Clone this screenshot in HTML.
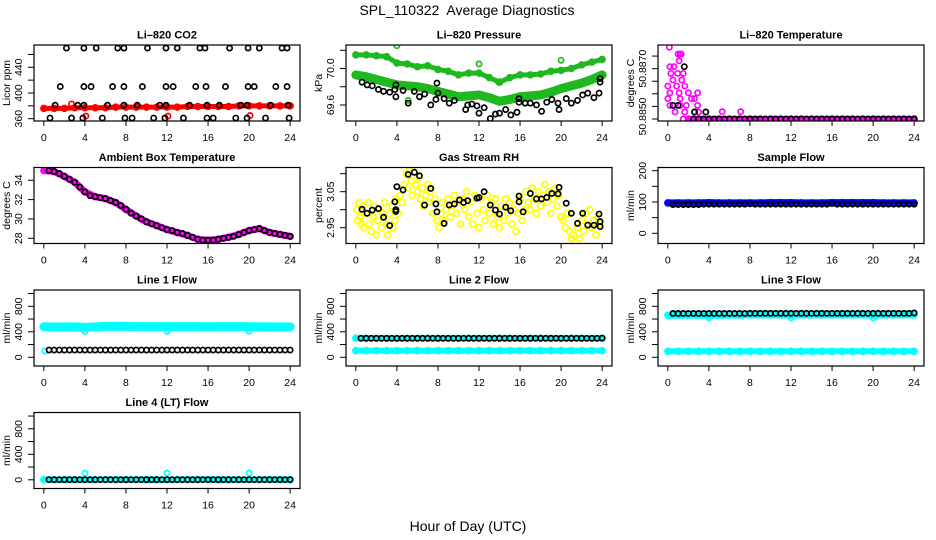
<!DOCTYPE html>
<html><head><meta charset="utf-8"><title>SPL_110322 Average Diagnostics</title>
<style>
html,body{margin:0;padding:0;background:#fff;}
svg{display:block;font-family:"Liberation Sans",Arial,sans-serif;}
</style></head>
<body>
<svg id="chart" width="936" height="540" viewBox="0 0 936 540" xmlns="http://www.w3.org/2000/svg">
<text x="467" y="15" font-size="14" text-anchor="middle">SPL_110322&#160; Average Diagnostics</text>
<text x="468" y="531" font-size="14" text-anchor="middle">Hour of Day (UTC)</text>
</svg>
<script>
// ---------- data ----------
const halfTimes = [0.5,1,1.5,2,2.5,3,3.5,4,4.5,5,5.5,6,6.5,7,7.5,8,8.5,9,9.5,10,10.5,11,11.5,12,12.5,13,13.5,14,14.5,15,15.5,16,16.5,17,17.5,18,18.5,19,19.5,20,20.5,21,21.5,22,22.5,23,23.5,24];
const hours = [0,1,2,3,4,5,6,7,8,9,10,11,12,13,14,15,16,17,18,19,20,21,22,23,24];

// CO2
const co2Red = [376,376,376,377,377,377,377,378,378,378,378,378,378,378,379,379,379,379,379,380,380,380,380,380,380];
const co2RedOutX = [2.7,4.1,12.1,20.1];
const co2RedOutY = [383,364,364,365];
const co2BlackX = [2.2,3.9,5.1,7.2,7.8,10.1,11.9,13.0,15.2,15.7,18.1,19.9,21.0,23.2,23.7,
  1.6,3.9,4.6,6.7,7.8,9.6,11.9,12.6,14.8,15.8,17.7,19.9,20.5,22.6,23.7,
  1.1,3.3,3.9,6.2,7.8,9.1,11.3,11.9,14.2,15.9,17.1,19.2,19.8,22.1,23.8,
  0.6,2.7,3.8,5.7,7.9,8.6,10.7,11.8,13.6,15.9,16.5,18.7,19.8,21.6,23.9];
const co2BlackY = [470,470,470,470,470,470,470,470,470,470,470,470,470,470,470,
  410,410,410,410,410,410,410,410,410,410,410,410,410,410,410,
  381,381,381,381,381,381,381,381,381,381,381,381,381,381,381,
  361,361,361,361,361,361,361,361,361,361,361,361,361,361,361];

// Pressure
const presUpper = [70.15,70.15,70.14,70.13,70.06,70.05,70.02,70.03,69.99,69.97,69.93,69.95,69.95,69.90,69.85,69.90,69.93,69.93,69.94,69.97,69.98,70.00,70.04,70.07,70.10];
const presLower = [69.93,69.91,69.88,69.85,69.82,69.81,69.80,69.78,69.75,69.72,69.69,69.70,69.71,69.68,69.64,69.66,69.69,69.70,69.71,69.74,69.78,69.81,69.84,69.88,69.93];
const presGreenOutX = [4.0,12.0,20.0,5.1,13.9];
const presGreenOutY = [70.25,70.05,70.09,69.65,69.85];
const presBlackX = [0.6,1.1,1.6,2.2,2.7,3.3,3.8,3.9,3.9,4.6,5.1,5.7,6.2,6.7,7.3,7.8,7.9,8.0,8.6,9.1,9.6,10.7,10.9,11.3,11.8,12.0,12.5,13.1,13.6,14.0,14.6,15.1,15.7,15.9,15.9,16.5,17.0,17.6,18.1,18.6,19.1,19.7,19.8,20.5,21.0,21.6,22.1,22.6,23.2,23.7,23.8,23.8];
const presBlackY = [69.85,69.82,69.81,69.77,69.75,69.74,69.77,69.69,69.82,69.76,69.62,69.75,69.69,69.72,69.60,69.66,69.84,69.73,69.67,69.62,69.65,69.55,69.60,69.61,69.59,69.51,69.57,69.45,69.50,69.51,69.55,69.49,69.52,69.67,69.63,69.62,69.62,69.60,69.53,69.63,69.66,69.62,69.55,69.67,69.62,69.65,69.71,69.73,69.68,69.73,69.89,69.85];

// Li-820 temperature
const ltMagX = [0.15,1.0,1.2,1.3,1.1,0.2,0.6,0.3,0.95,1.5,0.5,1.35,0.0,0.85,1.65,0.2,1.1,2.0,2.9,0.0,1.2,2.3,2.6,0.2,1.2,1.8,2.9,0.7,1.65,2.6,3.0,5.3,7.1,1.5,2.0,2.5,3.0,3.5];
const ltMagY = [50.88785,50.88758,50.88758,50.88758,50.88731,50.88708,50.88708,50.88681,50.88681,50.88681,50.88655,50.88655,50.88631,50.88631,50.88631,50.88604,50.88604,50.88604,50.88604,50.88581,50.88581,50.88581,50.88581,50.88554,50.88554,50.88554,50.88554,50.88528,50.88528,50.88528,50.88528,50.88529,50.88529,50.88500,50.88500,50.88500,50.88500,50.88500];
const ltMagBand = [50.8850,50.8850,50.8850,50.8850,50.8850,50.8850,50.8850,50.8850,50.8850,50.8850,50.8850,50.8850,50.8850,50.8850,50.8850,50.8850,50.8850,50.8850,50.8850,50.8850,50.8850,50.8850,50.8850];
const ltBandHours = [2,3,4,5,6,7,8,9,10,11,12,13,14,15,16,17,18,19,20,21,22,23,24];
const ltBlackX = [1.6,0.5,1.0,2.6,3.7,2.5,3,3.5,4,4.5,5,5.5,6,6.5,7,7.5,8,8.5,9,9.5,10,10.5,11,11.5,12,12.5,13,13.5,14,14.5,15,15.5,16,16.5,17,17.5,18,18.5,19,19.5,20,20.5,21,21.5,22,22.5,23,23.5,24];
const ltBlackY = [50.88708,50.88554,50.88554,50.88528,50.88528,50.8850,50.8850,50.8850,50.8850,50.8850,50.8850,50.8850,50.8850,50.8850,50.8850,50.8850,50.8850,50.8850,50.8850,50.8850,50.8850,50.8850,50.8850,50.8850,50.8850,50.8850,50.8850,50.8850,50.8850,50.8850,50.8850,50.8850,50.8850,50.8850,50.8850,50.8850,50.8850,50.8850,50.8850,50.8850,50.8850,50.8850,50.8850,50.8850,50.8850,50.8850,50.8850,50.8850,50.8850];

// Ambient box temperature
const ambMagenta = [35.0,34.9,34.4,33.8,32.8,32.3,32.1,31.7,31.0,30.3,29.7,29.3,28.9,28.6,28.3,27.9,27.8,27.9,28.1,28.4,28.8,29.0,28.6,28.4,28.2];
const ambBlack = [35.0,34.9,34.7,34.4,34.1,33.8,33.3,32.8,32.4,32.3,32.2,32.1,31.9,31.7,31.4,31.0,30.6,30.3,30.0,29.7,29.5,29.3,29.1,28.9,28.8,28.6,28.5,28.3,28.1,27.9,27.8,27.8,27.8,27.9,28.0,28.1,28.2,28.4,28.6,28.8,28.9,29.0,28.8,28.6,28.5,28.4,28.3,28.2];

// Gas stream RH
const rhYelX = [0.1,0.2,0.3,0.4,0.5,0.7,0.8,1.0,1.2,1.3,1.5,1.7,1.8,2.0,2.1,2.3,2.5,2.6,2.8,3.0,3.1,3.3,3.5,3.6,3.8,3.9,4.1,4.3,4.5,4.7,4.9,5.0,5.2,5.4,5.5,5.6,5.8,6.0,6.1,6.3,6.5,6.6,6.8,7.0,7.1,7.3,7.5,7.7,7.9,8.1,8.3,8.4,8.6,8.8,9.0,9.2,9.4,9.6,9.8,10.0,10.2,10.4,10.6,10.8,11.0,11.2,11.4,11.6,11.8,12.0,12.2,12.4,12.6,12.8,13.0,13.2,13.4,13.6,13.8,14.0,14.2,14.4,14.6,14.8,15.0,15.2,15.4,15.6,15.8,16.0,16.2,16.4,16.6,16.8,17.0,17.2,17.4,17.6,17.8,18.0,18.2,18.4,18.6,18.8,19.0,19.2,19.4,19.6,19.8,20.0,20.2,20.4,20.6,20.8,21.0,21.2,21.4,21.6,21.8,22.0,22.2,22.4,22.6,22.8,23.0,23.2,23.4,23.6,23.8];
const rhYelY = [3.00,2.97,3.02,2.98,2.96,3.01,2.95,2.99,3.02,2.96,2.94,2.98,3.01,2.93,2.97,3.00,2.95,2.99,3.02,2.96,2.93,2.99,3.01,2.95,2.97,3.03,2.99,3.04,3.02,3.07,3.10,3.06,3.11,3.08,3.04,3.12,3.07,3.05,3.09,3.03,3.06,3.01,3.04,3.07,3.02,3.05,2.99,3.03,2.97,2.95,2.99,3.02,2.97,3.00,3.03,2.98,3.01,3.04,2.99,3.02,2.96,3.03,3.00,3.05,2.98,3.02,2.96,3.04,2.99,2.95,3.03,3.00,2.97,3.04,2.99,3.02,2.96,3.03,2.98,2.95,3.01,2.97,3.03,2.99,3.02,2.96,3.00,2.94,2.99,3.03,2.97,3.00,3.05,3.02,3.00,3.06,3.03,2.99,3.05,3.01,3.04,3.07,3.02,3.05,2.99,3.03,3.06,3.01,3.04,2.98,2.97,2.95,2.99,2.94,2.92,2.93,2.91,2.95,2.92,2.97,2.94,2.99,2.96,3.00,2.95,2.97,2.93,2.98,2.96];
const rhBlackX = [0.6,1.1,1.6,2.2,2.7,3.3,3.8,3.9,3.9,4.0,4.6,5.1,5.7,6.2,6.7,7.3,7.8,7.9,8.6,9.1,9.6,10.1,10.5,10.9,11.8,12.0,12.5,13.1,13.6,14.0,14.6,15.1,15.9,15.9,16.3,17.0,17.6,18.1,18.6,19.1,19.7,19.8,20.5,21.0,21.6,22.1,22.6,23.2,23.7,23.8,23.8];
const rhBlackY = [3.001,2.990,2.999,3.003,2.979,2.956,3.022,3.000,2.995,3.064,3.055,3.098,3.104,3.094,3.013,3.059,3.016,2.994,2.962,3.013,3.016,3.027,3.020,3.025,3.032,3.034,3.050,3.013,2.999,2.988,3.007,2.997,3.022,3.038,2.994,3.045,3.030,3.030,3.034,3.045,3.044,3.062,3.018,2.990,2.962,2.990,2.957,2.957,2.988,2.967,2.953];

// Sample flow
const sfBlue = [97,97,97,97,98,97,97,97,97,97,98,98,98,97,97,97,98,98,98,98,98,97,97,97,97];
const sfBlack = [92,92,92,92,92,92,93,93,93,93,93,93,93,93,93,94,93,93,93,93,93,93,93,93,93,93,93,93,93,93,93,95,93,93,93,93,93,93,93,93,93,93,93,93,93,93,93,93];

// Line flows
const l1Cyan = [480,476,478,478,470,478,485,485,485,482,482,482,482,482,482,482,480,482,482,482,480,478,478,478,478];
const l1CyanOutX = [0.1,4.0,12.0,20.0];
const l1CyanOutY = [100,405,410,410];
const l1Black = [114,114,114,114,114,114,114,114,114,114,114,114,114,114,114,114,114,114,114,114,114,114,114,114,114,114,114,114,114,114,114,114,114,114,114,114,114,114,114,114,114,114,114,114,114,114,114,114];
const l2CyanHi = [300,298,298,298,295,298,298,298,298,298,298,298,298,298,298,298,298,298,298,298,298,298,298,298,298];
const l2CyanLo = [104,104,104,104,104,104,104,104,104,104,104,104,104,104,104,104,104,104,104,104,104,104,104,104,104];
const l2Black = [298,298,298,298,298,298,298,298,298,298,298,298,298,298,298,298,298,298,298,298,298,298,298,298,298,298,298,298,298,298,298,298,298,298,298,298,298,298,298,298,298,298,298,298,298,298,298,300];
const l3CyanHi = [660,660,660,660,655,660,662,662,665,665,665,665,662,665,665,665,665,665,665,665,660,665,665,665,665];
const l3CyanOutX = [4.0,12.0,20.0];
const l3CyanOutY = [620,620,620];
const l3CyanLo = [94,94,94,94,94,94,94,94,94,94,94,94,94,94,94,94,94,94,94,94,94,94,94,94,94];
const l3Black = [688,688,688,688,688,688,688,688,688,688,688,688,688,688,688,690,690,690,690,690,690,690,690,690,690,690,690,690,690,690,690,690,690,690,690,690,690,690,690,690,690,690,690,690,690,690,690,695];
const l4Cyan = [2,2,2,2,2,2,2,2,2,2,2,2,2,2,2,2,2,2,2,2,2,2,2,2,2];
const l4CyanOutX = [4.0,12.0,20.0];
const l4CyanOutY = [105,105,105];
const l4Black = [2,2,2,2,2,2,2,2,2,2,2,2,2,2,2,2,2,2,2,2,2,2,2,2,2,2,2,2,2,2,2,2,2,2,2,2,2,2,2,2,2,2,2,2,2,2,2,2];

// ---------- drawing ----------
const svg = document.getElementById('chart');
const NS = 'http://www.w3.org/2000/svg';
function mk(tag, attrs, parent){
  const e = document.createElementNS(NS, tag);
  for (const k in attrs) e.setAttribute(k, attrs[k]);
  parent.appendChild(e);
  return e;
}
const X0 = -0.96, X1 = 24.96;
const xTicks = [0,4,8,12,16,20,24];

function makePanel(name, title, ylab, bx, by, ymin, ymax, yTicks, yLabels){
  const W = 266, H = 76;
  const g = mk('g', {}, svg);
  
  
  const sx = v => bx + (v - X0) / (X1 - X0) * W;
  const sy = v => by + H - (v - ymin) / (ymax - ymin) * H;
  const clipId = 'clip-' + name;
  const cp = mk('clipPath', {id: clipId}, g);
  mk('rect', {x: bx, y: by, width: W, height: H}, cp);
  const plot = mk('g', {'clip-path': 'url(#' + clipId + ')'}, g);
  
  
  const t = mk('text', {x: bx + W/2, y: by - 6.5, 'font-size': 11, 'font-weight': 'bold', 'text-anchor': 'middle'}, g);
  t.textContent = title;
  
  
  const yl = mk('text', {transform: 'translate(' + (bx - 24) + ',' + (by + H/2) + ') rotate(-90)', 'font-size': 10.5, 'text-anchor': 'middle'}, g);
  yl.textContent = ylab;
  
  
  for (const v of xTicks){
    mk('line', {x1: sx(v), x2: sx(v), y1: by + H, y2: by + H + 5, stroke: '#000', 'stroke-width': 1}, g);
    const lt = mk('text', {x: sx(v), y: by + H + 20, 'font-size': 10.5, 'text-anchor': 'middle'}, g);
    lt.textContent = String(v);
    
    
  }
  for (const v of yTicks){
    mk('line', {x1: bx - 6, x2: bx, y1: sy(v), y2: sy(v), stroke: '#000', 'stroke-width': 1}, g);
  }
  for (let i = 0; i < yLabels.length; i++){
    const v = yLabels[i][0];
    const lt = mk('text', {transform: 'translate(' + (bx - 12) + ',' + sy(v) + ') rotate(-90)', 'font-size': 10.5, 'text-anchor': 'middle'}, g);
    lt.textContent = yLabels[i][1];
    
    
  }
  const box = mk('rect', {x: bx, y: by, width: W, height: H, fill: 'none', stroke: '#000', 'stroke-width': 1.2}, g);
  
  
  return {plot, sx, sy};
}

function points(p, xs, ys, color, nm, r){
  for (let i = 0; i < xs.length; i++){
    const c = mk('circle', {cx: p.sx(xs[i]), cy: p.sy(ys[i]), r: r || 2.6, fill: 'none', stroke: color, 'stroke-width': 1.7}, p.plot);
    
    
  }
}
function band(p, xs, ys, color, nm, w){
  const d = xs.map((x, i) => (i ? 'L' : 'M') + p.sx(x).toFixed(2) + ',' + p.sy(ys[i]).toFixed(2)).join('');
  const pa = mk('path', {d: d, fill: 'none', stroke: color, 'stroke-width': w, 'stroke-linejoin': 'round', 'stroke-linecap': 'round'}, p.plot);
  
  
  points(p, xs, ys, color, nm + '-point', 2.9);
}

const cols = [34, 346, 658];
const rows = [45, 167.5, 290, 412.5];

// CO2
let p = makePanel('co2-panel', 'Li\u2013820 CO2', 'Licor ppm', cols[0], rows[0], 356.4, 474.7,
  [360,380,400,420,440,460], [[360,'360'],[400,'400'],[440,'440']]);
band(p, hours, co2Red, '#ff0000', 'co2-red-series', 5);
points(p, co2RedOutX, co2RedOutY, '#ff0000', 'co2-red-outlier');
points(p, co2BlackX, co2BlackY, '#000', 'co2-black-point');

// Pressure
p = makePanel('pressure-panel', 'Li\u2013820 Pressure', 'kPa', cols[1], rows[0], 69.424, 70.258,
  [69.6,69.8,70.0,70.2], [[69.6,'69.6'],[70.0,'70.0']]);
band(p, hours, presLower, '#1fb81f', 'pressure-green-lower', 9);
band(p, hours, presUpper, '#1fb81f', 'pressure-green-upper', 5);
points(p, presGreenOutX, presGreenOutY, '#1fb81f', 'pressure-green-outlier');
points(p, presBlackX, presBlackY, '#000', 'pressure-black-point');

// Li-820 temperature
p = makePanel('li820-temp-panel', 'Li\u2013820 Temperature', 'degrees C', cols[2], rows[0], 50.88492, 50.88794,
  [50.8850,50.8855,50.8860,50.8865,50.8870,50.8875], [[50.8870,'50.8870'],[50.8851,'50.8850']]);
band(p, ltBandHours, ltMagBand, '#ff00ff', 'li820-temp-magenta-band', 6);
points(p, ltMagX, ltMagY, '#ff00ff', 'li820-temp-magenta-point');
points(p, ltBlackX, ltBlackY, '#000', 'li820-temp-black-point');

// Ambient
p = makePanel('ambient-temp-panel', 'Ambient Box Temperature', 'degrees C', cols[0], rows[1], 27.46, 35.32,
  [28,30,32,34], [[28,'28'],[30,'30'],[32,'32'],[34,'34']]);
band(p, hours, ambMagenta, '#ff00ff', 'ambient-magenta-band', 7);
points(p, halfTimes, ambBlack, '#000', 'ambient-black-point');

// Gas RH
p = makePanel('gas-rh-panel', 'Gas Stream RH', 'percent', cols[1], rows[1], 2.9061, 3.1172,
  [2.95,3.00,3.05,3.10], [[2.95,'2.95'],[3.05,'3.05']]);
points(p, rhYelX, rhYelY, '#ffff00', 'rh-yellow-point', 3);
points(p, rhBlackX, rhBlackY, '#000', 'rh-black-point');

// Sample flow
p = makePanel('sample-flow-panel', 'Sample Flow', 'ml/min', cols[2], rows[1], -32.6, 210.2,
  [0,50,100,150,200], [[0,'0'],[100,'100'],[200,'200']]);
band(p, hours, sfBlue, '#0000ff', 'sample-flow-blue-band', 7);
points(p, halfTimes, sfBlack, '#000', 'sample-flow-black-point');

const flowTicks = [0,200,400,600,800,1000];
const flowLabels = [[0,'0'],[400,'400'],[800,'800']];
// Line 1
p = makePanel('line1-flow-panel', 'Line 1 Flow', 'ml/min', cols[0], rows[2], -136.5, 1055.7, flowTicks, flowLabels);
band(p, hours, l1Cyan, '#00ffff', 'line1-cyan-band', 9);
points(p, l1CyanOutX, l1CyanOutY, '#00ffff', 'line1-cyan-outlier');
points(p, halfTimes, l1Black, '#000', 'line1-black-point');
// Line 2
p = makePanel('line2-flow-panel', 'Line 2 Flow', 'ml/min', cols[1], rows[2], -136.5, 1055.7, flowTicks, flowLabels);
band(p, hours, l2CyanLo, '#00ffff', 'line2-cyan-low-band', 6);
band(p, hours, l2CyanHi, '#00ffff', 'line2-cyan-high-band', 6);
points(p, halfTimes, l2Black, '#000', 'line2-black-point');
// Line 3
p = makePanel('line3-flow-panel', 'Line 3 Flow', 'ml/min', cols[2], rows[2], -136.5, 1055.7, flowTicks, flowLabels);
band(p, hours, l3CyanLo, '#00ffff', 'line3-cyan-low-band', 6);
band(p, hours, l3CyanHi, '#00ffff', 'line3-cyan-high-band', 7);
points(p, l3CyanOutX, l3CyanOutY, '#00ffff', 'line3-cyan-outlier');
points(p, halfTimes, l3Black, '#000', 'line3-black-point');
// Line 4
p = makePanel('line4-flow-panel', 'Line 4 (LT) Flow', 'ml/min', cols[0], rows[3], -136.5, 1055.7, flowTicks, flowLabels);
band(p, hours, l4Cyan, '#00ffff', 'line4-cyan-band', 6);
points(p, l4CyanOutX, l4CyanOutY, '#00ffff', 'line4-cyan-outlier');
points(p, halfTimes, l4Black, '#000', 'line4-black-point');
</script>
</body></html>
